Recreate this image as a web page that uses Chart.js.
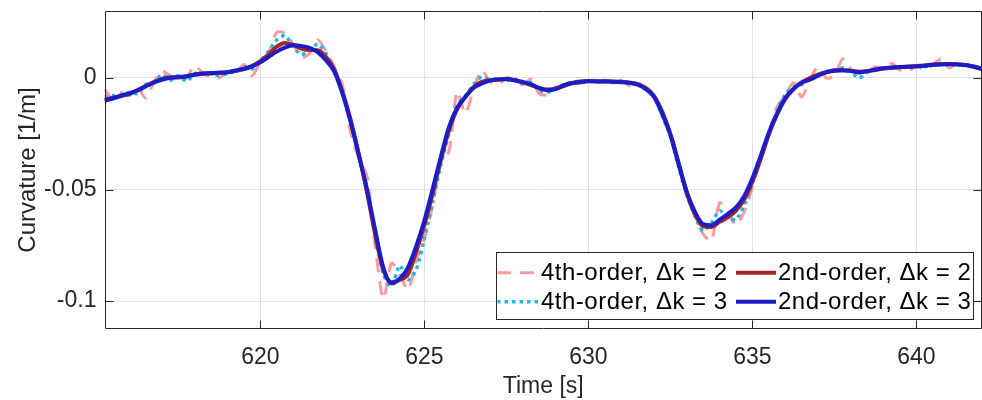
<!DOCTYPE html>
<html><head><meta charset="utf-8">
<script src="https://cdn.jsdelivr.net/npm/chart.js@4"></script>
<style>html,body{margin:0;padding:0;background:#fff}canvas{display:block}</style>
</head><body>
<canvas id="c" width="982" height="400"></canvas>
<script>
const times = [
615.25,615.5,615.75,616.0,616.25,616.5,616.75,617.0,617.25,617.5,617.75,618.0,618.25,618.5,618.75,619.0,619.25,619.5,619.75,
620.0,620.25,620.5,620.75,621.0,621.25,621.5,621.75,622.0,622.25,622.5,622.75,623.0,623.25,623.5,623.75,
624.0,624.25,624.5,624.75,625.0,625.25,625.5,625.75,626.0,626.25,626.5,626.75,627.0,627.25,627.5,627.75,
628.0,628.25,628.5,628.75,629.0,629.25,629.5,629.75,630.0,630.25,630.5,630.75,631.0,631.25,631.5,631.75,
632.0,632.25,632.5,632.75,633.0,633.25,633.5,633.75,634.0,634.25,634.5,634.75,635.0,635.25,635.5,635.75,
636.0,636.25,636.5,636.75,637.0,637.25,637.5,637.75,638.0,638.25,638.5,638.75,639.0,639.25,639.5,639.75,
640.0,640.25,640.5,640.75,641.0,641.25,641.5,641.75,642.0];

const fourthOrderDk2 = [
-0.0050,-0.0095,-0.0065,-0.0080,-0.0040,-0.0090,-0.0020,0.0030,0.0010,-0.0015,0.0000,0.0055,0.0020,0.0005,0.0000,0.0030,0.0020,0.0060,0.0010,
0.0070,0.0110,0.0205,0.0200,0.0150,0.0090,0.0110,0.0170,0.0120,0.0050,-0.0030,-0.0240,-0.0360,-0.0440,-0.0750,-0.0990,
-0.0830,-0.0880,-0.0950,-0.0820,-0.0720,-0.0570,-0.0380,-0.0330,-0.0060,-0.0160,-0.0050,0.0035,-0.0015,-0.0030,0.0000,-0.0005,
-0.0030,-0.0005,-0.0070,-0.0075,-0.0040,-0.0040,-0.0020,-0.0025,-0.0010,-0.0015,-0.0010,-0.0020,-0.0010,-0.0035,-0.0020,-0.0050,
-0.0070,-0.0170,-0.0240,-0.0380,-0.0530,-0.0620,-0.0700,-0.0730,-0.0560,-0.0600,-0.0660,-0.0600,-0.0490,-0.0360,-0.0250,-0.0130,
-0.0080,-0.0020,-0.0085,-0.0010,0.0050,0.0000,0.0010,0.0085,0.0040,0.0020,0.0025,0.0050,0.0045,0.0065,0.0035,0.0030,
0.0055,0.0035,0.0060,0.0085,0.0045,0.0065,0.0060,0.0045,0.0040];

const secondOrderDk2 = [
-0.0098,-0.0088,-0.0080,-0.0072,-0.0056,-0.0036,-0.0018,-0.0004,0.0002,0.0002,0.0008,0.0016,0.0020,0.0020,0.0022,0.0026,0.0032,0.0040,0.0052,
0.0075,0.0105,0.0140,0.0157,0.0148,0.0132,0.0125,0.0124,0.0095,0.0040,-0.0060,-0.0185,-0.0340,-0.0510,-0.0700,-0.0860,
-0.0915,-0.0905,-0.0880,-0.0780,-0.0660,-0.0520,-0.0370,-0.0235,-0.0140,-0.0085,-0.0040,-0.0018,-0.0010,-0.0008,-0.0004,-0.0010,
-0.0020,-0.0032,-0.0045,-0.0052,-0.0048,-0.0032,-0.0022,-0.0016,-0.0014,-0.0016,-0.0015,-0.0016,-0.0018,-0.0020,-0.0028,-0.0045,
-0.0080,-0.0150,-0.0250,-0.0380,-0.0515,-0.0610,-0.0665,-0.0668,-0.0645,-0.0625,-0.0595,-0.0545,-0.0465,-0.0365,-0.0255,-0.0165,
-0.0095,-0.0050,-0.0020,0.0000,0.0015,0.0026,0.0034,0.0035,0.0032,0.0028,0.0030,0.0036,0.0042,0.0046,0.0048,0.0051,
0.0053,0.0056,0.0060,0.0062,0.0062,0.0061,0.0058,0.0052,0.0042];

const fourthOrderDk3 = [
-0.0085,-0.0080,-0.0075,-0.0065,-0.0070,-0.0030,-0.0020,0.0015,-0.0010,0.0010,-0.0015,0.0020,0.0022,0.0018,0.0010,0.0020,0.0030,0.0050,0.0040,
0.0075,0.0120,0.0170,0.0190,0.0140,0.0105,0.0125,0.0152,0.0110,0.0030,-0.0060,-0.0200,-0.0340,-0.0490,-0.0700,-0.0880,
-0.0935,-0.0840,-0.0905,-0.0860,-0.0720,-0.0560,-0.0390,-0.0250,-0.0120,-0.0080,-0.0030,0.0005,-0.0010,-0.0005,-0.0010,-0.0005,
-0.0025,-0.0020,-0.0055,-0.0065,-0.0045,-0.0030,-0.0020,-0.0025,-0.0012,-0.0018,-0.0012,-0.0020,-0.0015,-0.0025,-0.0025,-0.0050,
-0.0080,-0.0170,-0.0260,-0.0400,-0.0525,-0.0620,-0.0685,-0.0650,-0.0595,-0.0625,-0.0635,-0.0570,-0.0470,-0.0360,-0.0250,-0.0150,
-0.0075,-0.0040,-0.0030,0.0000,0.0015,0.0030,0.0030,0.0045,0.0030,0.0000,0.0025,0.0040,0.0045,0.0045,0.0050,0.0045,
0.0055,0.0050,0.0060,0.0065,0.0060,0.0062,0.0058,0.0048,0.0040];

const secondOrderDk3 = [
-0.0102,-0.0092,-0.0081,-0.0069,-0.0056,-0.0038,-0.0021,-0.0008,0.0001,0.0004,0.0008,0.0014,0.0019,0.0022,0.0024,0.0026,0.0033,0.0041,0.0053,
0.0070,0.0094,0.0118,0.0136,0.0146,0.0143,0.0135,0.0116,0.0079,0.0030,-0.0068,-0.0195,-0.0345,-0.0500,-0.0680,-0.0850,
-0.0920,-0.0900,-0.0850,-0.0755,-0.0640,-0.0500,-0.0355,-0.0220,-0.0135,-0.0085,-0.0045,-0.0025,-0.0012,-0.0006,-0.0006,-0.0010,
-0.0018,-0.0028,-0.0046,-0.0055,-0.0050,-0.0035,-0.0024,-0.0018,-0.0015,-0.0015,-0.0016,-0.0017,-0.0019,-0.0022,-0.0030,-0.0050,
-0.0085,-0.0160,-0.0255,-0.0385,-0.0510,-0.0600,-0.0655,-0.0660,-0.0635,-0.0610,-0.0580,-0.0530,-0.0450,-0.0350,-0.0245,-0.0160,
-0.0090,-0.0050,-0.0022,-0.0008,0.0010,0.0025,0.0032,0.0034,0.0031,0.0026,0.0030,0.0038,0.0043,0.0047,0.0049,0.0050,
0.0051,0.0055,0.0058,0.0060,0.0061,0.0060,0.0058,0.0050,0.0040];

const xTicks = [620, 625, 630, 635, 640];
const xTickLabels = ['620', '625', '630', '635', '640'];
const yTicks = [-0.1, -0.05, 0];
const yTickLabels = ['-0.1', '-0.05', '0'];
const legendLabels = ['4th-order, \u0394k = 2', '2nd-order, \u0394k = 2', '4th-order, \u0394k = 3', '2nd-order, \u0394k = 3'];

const FONT = "'Liberation Sans', Arial, sans-serif";
const AXIS = '#262626';

function pts(vals){ return times.map((t,i)=>({x:t, y:vals[i]})); }

const datasets = [
  {label: legendLabels[0], data: pts(fourthOrderDk2), borderColor:'#ff9a9a', borderWidth:3, borderDash:[14,9], order:3, tension:0.25},
  {label: legendLabels[1], data: pts(secondOrderDk2), borderColor:'#a32626', borderWidth:4, order:1, cubicInterpolationMode:'monotone'},
  {label: legendLabels[2], data: pts(fourthOrderDk3), borderColor:'#1ab8f0', borderWidth:3.5, borderDash:[3.5,4], order:2, tension:0.25},
  {label: legendLabels[3], data: pts(secondOrderDk3), borderColor:'#1c1cc8', borderWidth:4, order:0, cubicInterpolationMode:'monotone'}
];
datasets.forEach(d=>{ d.pointRadius=0; d.fill=false; d.clip=0; });

const framePlugin = {
  id:'frame',
  afterDatasetsDraw(chart){
    const {ctx, chartArea:a, scales} = chart;
    ctx.save();
    ctx.strokeStyle = AXIS; ctx.lineWidth = 1;
    const L=Math.round(a.left)+0.5, R=Math.round(a.right)-0.5, T=Math.round(a.top)+0.5, B=Math.round(a.bottom)-0.5;
    ctx.beginPath();
    ctx.moveTo(L,T); ctx.lineTo(R,T); ctx.lineTo(R,B); ctx.lineTo(L,B); ctx.closePath();
    const tl = 8;
    xTicks.forEach(v=>{ const x=Math.round(scales.x.getPixelForValue(v))+0.5; ctx.moveTo(x,B); ctx.lineTo(x,B-tl); ctx.moveTo(x,T); ctx.lineTo(x,T+tl); });
    yTicks.forEach(v=>{ const y=Math.round(scales.y.getPixelForValue(v))+0.5; ctx.moveTo(L,y); ctx.lineTo(L+tl,y); ctx.moveTo(R,y); ctx.lineTo(R-tl,y); });
    ctx.stroke();
    ctx.restore();
  }
};

const legendPlugin = {
  id:'boxLegend',
  afterDraw(chart){
    const ctx = chart.ctx;
    const box = {l:496.5, t:252.5, r:973.5, b:319.5};
    ctx.save();
    ctx.fillStyle='#fff'; ctx.fillRect(box.l, box.t, box.r-box.l, box.b-box.t);
    ctx.strokeStyle=AXIS; ctx.lineWidth=1; ctx.strokeRect(box.l, box.t, box.r-box.l, box.b-box.t);
    const rows=[272.7, 301.7], baselines=[280, 309];
    const cols=[{s0:497, s1:540, tx:541}, {s0:736, s1:776, tx:778}];
    [0,1,2,3].forEach((di,k)=>{
      const ds = chart.data.datasets[di];
      const r = Math.floor(k/2), c = k%2;
      ctx.save();
      ctx.beginPath();
      ctx.rect(box.l+1, box.t+1, box.r-box.l-2, box.b-box.t-2); ctx.clip();
      ctx.strokeStyle = ds.borderColor; ctx.lineWidth = ds.borderWidth;
      ctx.setLineDash(ds.borderDash || []);
      ctx.beginPath(); ctx.moveTo(cols[c].s0, rows[r]); ctx.lineTo(cols[c].s1, rows[r]); ctx.stroke();
      ctx.restore();
      ctx.save();
      ctx.fillStyle = '#000';
      ctx.font = '24px ' + FONT;
      ctx.letterSpacing = '0.5px';
      ctx.textBaseline = 'alphabetic'; ctx.textAlign='left';
      ctx.fillText(ds.label, cols[c].tx, baselines[r]);
      ctx.restore();
    });
    ctx.restore();
  }
};

new Chart(document.getElementById('c'), {
  type:'line',
  data:{datasets},
  options:{
    responsive:false, animation:false, devicePixelRatio:1,
    layout:{padding:{top:11, right:0, left:0, bottom:0}},
    plugins:{legend:{display:false}, tooltip:{enabled:false}},
    scales:{
      x:{
        type:'linear', min:615.25, max:642,
        afterBuildTicks(s){ s.ticks = xTicks.map(v=>({value:v})); },
        afterFit(s){ s.height = 71; s.paddingLeft = 0; s.paddingRight = 0; },
        grid:{color:'#e2e2e2', lineWidth:1, drawTicks:false},
        border:{display:false},
        ticks:{color:AXIS, font:{family:FONT, size:23}, padding:15, maxRotation:0, autoSkip:false,
               callback:(v)=>{ const i=xTicks.indexOf(v); return i>=0?xTickLabels[i]:''; }},
        title:{display:true, text:'Time [s]', color:AXIS, font:{family:FONT, size:23}, padding:{top:0, bottom:0}}
      },
      y:{
        type:'linear', min:-0.1125, max:0.03,
        afterBuildTicks(s){ s.ticks = yTicks.map(v=>({value:v})); },
        afterFit(s){ s.width = 104.5; s.paddingTop = 0; s.paddingBottom = 0; },
        grid:{color:'#e2e2e2', lineWidth:1, drawTicks:false},
        border:{display:false},
        ticks:{color:AXIS, font:{family:FONT, size:23}, padding:8, autoSkip:false,
               callback:(v)=>{ const i=yTicks.findIndex(t=>Math.abs(t-v)<1e-9); return i>=0?yTickLabels[i]:''; }},
        title:{display:true, text:'Curvature [1/m]', color:AXIS, font:{family:FONT, size:24}, padding:{top:14, bottom:0}}
      }
    }
  },
  plugins:[framePlugin, legendPlugin]
});
</script>
</body></html>
